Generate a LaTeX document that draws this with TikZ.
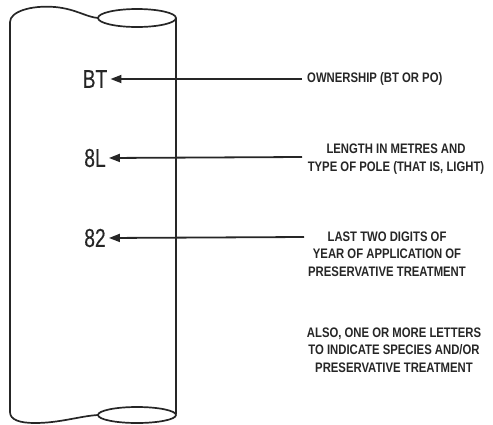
\documentclass[tikz,border=0pt]{standalone}
\usepackage{fontspec}
\setmainfont{Liberation Sans}
\newfontfamily\descfont{Liberation Sans}[FakeStretch=0.82]
\newfontfamily\labfont{Liberation Sans}[FakeStretch=0.74,FakeBold=0.3]
\usetikzlibrary{arrows.meta}
\tikzset{
  poleline/.style={line width=1.7pt, black!85},
  lab/.style={font=\labfont\fontsize{26}{26}\selectfont, inner sep=0pt, text=black!85},
  desc/.style={font=\descfont\bfseries\fontsize{13.8}{17.5}\selectfont, align=center, inner sep=0pt, text=black!85},
  pointer/.style={line width=1.8pt, black!85, -{Triangle[length=11pt,width=8pt]}, shorten >=3pt}
}
\begin{document}
\begin{tikzpicture}[x=1pt,y=-1pt]
\useasboundingbox (0,0) rectangle (493,424);
% pole
\draw[poleline] (10,412) -- (10,22) .. controls (10,12) and (30,5) .. (55,7)
  .. controls (76,9) and (86,17) .. (98,18);
\draw[poleline] (137,18) ellipse [x radius=39, y radius=9];
\draw[poleline] (176,18) -- (176,414);
\draw[poleline] (10,412) .. controls (10,420) and (20,423) .. (35,423)
  .. controls (60,423) and (80,416) .. (98,415);
\draw[poleline] (137,415) ellipse [x radius=39, y radius=8];
% labels
\node[lab] (bt) at (95,79) {BT};
\node[lab] (el) at (95,158) {8L};
\node[lab] (ee) at (95,238) {82};
% descriptions
\node[desc, anchor=west] (own) at (307,79) {OWNERSHIP (BT OR PO)};
\node[desc] (len) at (396,159) {LENGTH IN METRES AND\\TYPE OF POLE (THAT IS, LIGHT)};
\node[desc] (last) at (387,254) {LAST TWO DIGITS OF\\YEAR OF APPLICATION OF\\PRESERVATIVE TREATMENT};
\node[desc] (also) at (394,350) {ALSO, ONE OR MORE LETTERS\\TO INDICATE SPECIES AND/OR\\PRESERVATIVE TREATMENT};
% connector ends
\coordinate (c1) at (302,79);
\coordinate (c2) at (302,157);
\coordinate (c3) at (304,237);
\draw[pointer] (c1) -- (bt.east);
\draw[pointer] (c2) -- (el.east);
\draw[pointer] (c3) -- (ee.east);
\end{tikzpicture}
\end{document}
